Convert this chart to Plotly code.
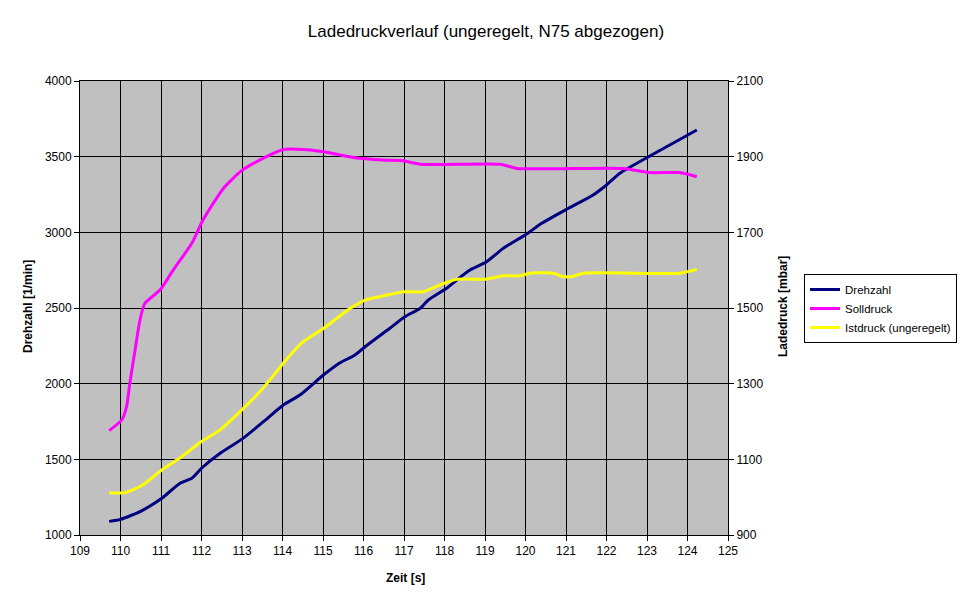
import plotly.graph_objects as go

# Drehzahl [1/min] (left axis)
drehzahl_t = [109.72, 110.0, 110.52, 111.02, 111.47, 111.76, 112.0, 112.46, 112.99, 113.53,
              114.02, 114.43, 115.01, 115.42, 115.79, 116.04, 116.65, 117.02, 117.40, 117.60,
              118.05, 118.30, 118.63, 119.04, 119.45, 120.03, 120.40, 121.06, 121.67, 122.0,
              122.33, 123.07, 124.23]
drehzahl = [1090, 1103, 1160, 1243, 1342, 1375, 1441, 1540, 1632, 1749,
            1859, 1925, 2057, 2138, 2189, 2244, 2366, 2442, 2498, 2553,
            2630, 2685, 2751, 2806, 2894, 2989, 3060, 3159, 3247, 3313,
            3390, 3504, 3676]

# Solldruck [mbar] (right axis)
soll_t = [109.72, 110.03, 110.15, 110.23, 110.36, 110.48, 110.60, 110.98, 111.30, 111.76,
          112.04, 112.54, 112.99, 113.53, 114.02, 114.51, 115.01, 115.75, 116.49, 116.98,
          117.40, 119.38, 119.79, 122.42, 123.07, 123.81, 124.23]
soll = [1176, 1204, 1239, 1301, 1389, 1468, 1512, 1548, 1600, 1671,
        1733, 1816, 1863, 1896, 1919, 1919, 1913, 1898, 1891, 1889,
        1880, 1880, 1869, 1869, 1858, 1858, 1847]

# Istdruck (ungeregelt) [mbar] (right axis)
ist_t = [109.72, 110.11, 110.52, 111.02, 111.51, 112.0, 112.46, 112.99, 113.48, 114.02,
         114.47, 115.01, 115.67, 116.04, 116.49, 116.98, 117.47, 117.89, 118.30, 119.0,
         119.45, 119.86, 120.11, 120.68, 120.93, 121.14, 121.43, 123.81, 124.23]
ist = [1012, 1012, 1030, 1072, 1107, 1147, 1178, 1230, 1283, 1354,
       1407, 1446, 1499, 1521, 1532, 1543, 1543, 1561, 1576, 1576,
       1585, 1585, 1592, 1592, 1583, 1583, 1592, 1592, 1602]

x_ticks = list(range(109, 126))
left_ticks = list(range(1000, 4001, 500))
right_ticks = list(range(900, 2101, 200))

FONT = "Liberation Sans, Arial, sans-serif"
W, H = 962, 596  # page body adds an 8px offset

fig = go.Figure()
fig.add_trace(go.Scatter(x=drehzahl_t, y=drehzahl, name="Drehzahl", mode="lines",
                         line=dict(color="#000080", width=3, shape="spline", smoothing=0.6)))
fig.add_trace(go.Scatter(x=soll_t, y=soll, name="Solldruck", mode="lines", yaxis="y2",
                         line=dict(color="#FF00FF", width=3, shape="spline", smoothing=0.6)))
fig.add_trace(go.Scatter(x=ist_t, y=ist, name="Istdruck (ungeregelt)", mode="lines", yaxis="y2",
                         line=dict(color="#FFFF00", width=3, shape="spline", smoothing=0.6)))

fig.update_layout(
    width=W, height=H,
    margin=dict(l=72, r=242, t=73, b=69),
    paper_bgcolor="white", plot_bgcolor="#C0C0C0",
    font=dict(family=FONT, size=12, color="black"),
    title=dict(text="Ladedruckverlauf (ungeregelt, N75 abgezogen)", x=(486 - 8) / W, xref="container",
               xanchor="center",
               y=1 - 23 / H, yref="container", yanchor="middle",
               font=dict(family=FONT, size=17, color="black")),
    xaxis=dict(range=[109, 125], tickvals=x_ticks, showgrid=True, gridcolor="black", gridwidth=1,
               showline=True, linecolor="black", linewidth=1, mirror=True,
               ticks="outside", ticklen=5, tickcolor="black", zeroline=False,
               tickfont=dict(size=12)),
    yaxis=dict(range=[1000, 4000], tickvals=left_ticks, showgrid=True, gridcolor="black", gridwidth=1,
               showline=True, linecolor="black", linewidth=1,
               ticks="outside", ticklen=5, tickcolor="black", zeroline=False,
               tickfont=dict(size=12)),
    yaxis2=dict(range=[900, 2100], tickvals=right_ticks, overlaying="y", side="right",
                showgrid=False, showline=True, linecolor="black", linewidth=1,
                ticks="outside", ticklen=5, tickcolor="black", zeroline=False,
                tickfont=dict(size=12)),
    legend=dict(xref="container", yref="container",
                x=(804 - 8) / W, y=1 - (274 - 8) / H, xanchor="left", yanchor="top",
                bgcolor="white", bordercolor="black", borderwidth=1,
                font=dict(family=FONT, size=11.5), itemwidth=30, tracegroupgap=0),
    showlegend=True,
)

fig.add_annotation(text="<b>Zeit [s]</b>", xref="paper", yref="paper",
                   x=(405 - 80) / 648, y=(535 - 578) / 454, showarrow=False,
                   font=dict(size=12), xanchor="center", yanchor="middle")
fig.add_annotation(text="<b>Drehzahl [1/min]</b>", xref="paper", yref="paper",
                   x=(28 - 80) / 648, y=(535 - 307) / 454, showarrow=False, textangle=-90,
                   font=dict(size=12), xanchor="center", yanchor="middle")
fig.add_annotation(text="<b>Ladedruck [mbar]</b>", xref="paper", yref="paper",
                   x=(783 - 80) / 648, y=(535 - 307) / 454, showarrow=False, textangle=-90,
                   font=dict(size=12), xanchor="center", yanchor="middle")

fig.write_html("out.html")
